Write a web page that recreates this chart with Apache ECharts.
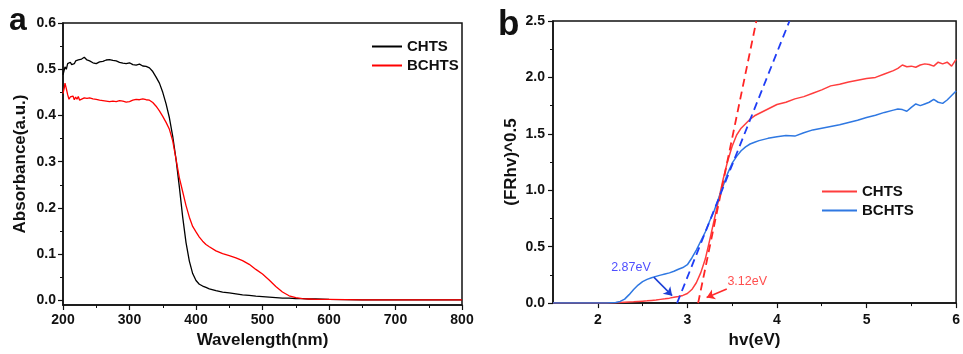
<!DOCTYPE html>
<html>
<head>
<meta charset="utf-8">
<script src="https://cdn.jsdelivr.net/npm/echarts@6/dist/echarts.min.js"></script>
<style>
html,body{margin:0;padding:0;background:#fff;}
#c{width:963px;height:354px;}
</style>
</head>
<body>
<div id="c"></div>
<script>
// ---------- Panel a data ----------
const wavelength = [200,202,203,205,207,209,211,213,215,217,219,221,223,225,228,232,236,240,245,250,255,260,265,270,275,280,285,290,295,300,305,310,315,320,325,330,335,340,345,350,355,360,365,370,375,380,385,390,395,400,405,410,415,420,430,440,450,460,470,480,490,500,510,520,530,540,550,560,570,580,600,650,700,750,800];
const absCHTS = [0.488,0.490,0.505,0.500,0.512,0.508,0.515,0.510,0.514,0.512,0.518,0.514,0.520,0.517,0.522,0.526,0.520,0.518,0.514,0.512,0.516,0.517,0.520,0.521,0.519,0.518,0.515,0.513,0.512,0.514,0.510,0.509,0.511,0.507,0.506,0.503,0.495,0.483,0.470,0.450,0.425,0.395,0.355,0.305,0.245,0.180,0.125,0.085,0.058,0.043,0.035,0.031,0.028,0.025,0.021,0.018,0.016,0.014,0.012,0.011,0.009,0.008,0.007,0.006,0.005,0.005,0.004,0.004,0.003,0.003,0.002,0.001,0.001,0.001,0.001];
const absBCHTS = [0.447,0.460,0.470,0.458,0.445,0.435,0.440,0.436,0.442,0.434,0.440,0.435,0.441,0.433,0.436,0.438,0.437,0.438,0.436,0.435,0.433,0.432,0.431,0.430,0.431,0.430,0.432,0.431,0.429,0.430,0.433,0.435,0.434,0.436,0.434,0.433,0.428,0.420,0.410,0.398,0.385,0.370,0.345,0.305,0.265,0.235,0.205,0.180,0.160,0.148,0.137,0.128,0.121,0.116,0.107,0.101,0.097,0.092,0.086,0.078,0.067,0.057,0.044,0.030,0.018,0.010,0.006,0.004,0.003,0.002,0.002,0.001,0.001,0.001,0.001];
const xTicksA = [200,300,400,500,600,700,800];
const yTicksA = [0,0.1,0.2,0.3,0.4,0.5,0.6];
const yMinorA = [0.05,0.15,0.25,0.35,0.45,0.55];

// ---------- Panel b data ----------
const energy = [1.5,1.8,2.0,2.1,2.2,2.25,2.3,2.35,2.4,2.45,2.5,2.55,2.6,2.65,2.7,2.75,2.8,2.85,2.9,2.95,3.0,3.05,3.1,3.15,3.2,3.25,3.3,3.35,3.4,3.45,3.5,3.55,3.6,3.65,3.7,3.75,3.8,3.9,4.0,4.1,4.2,4.3,4.4,4.5,4.6,4.7,4.8,4.9,5.0,5.1,5.2,5.3,5.35,5.4,5.45,5.5,5.55,5.6,5.65,5.7,5.75,5.8,5.85,5.9,5.95,6.0];
const frCHTS = [0,0,0,0.001,0.003,0.005,0.007,0.009,0.011,0.014,0.017,0.020,0.024,0.028,0.033,0.038,0.044,0.051,0.058,0.068,0.085,0.120,0.180,0.270,0.390,0.560,0.740,0.920,1.100,1.260,1.390,1.490,1.550,1.590,1.630,1.660,1.680,1.720,1.760,1.780,1.810,1.830,1.860,1.890,1.925,1.940,1.960,1.975,1.990,2.000,2.030,2.060,2.080,2.110,2.095,2.100,2.090,2.110,2.120,2.115,2.100,2.135,2.120,2.135,2.100,2.160];
const frBCHTS = [0,0,0,0.001,0.005,0.015,0.035,0.075,0.120,0.160,0.190,0.210,0.225,0.237,0.248,0.258,0.268,0.282,0.300,0.315,0.340,0.400,0.470,0.550,0.630,0.730,0.820,0.930,1.040,1.150,1.240,1.300,1.350,1.385,1.410,1.425,1.440,1.460,1.475,1.485,1.480,1.510,1.535,1.550,1.565,1.580,1.600,1.620,1.645,1.665,1.690,1.710,1.720,1.715,1.700,1.735,1.765,1.750,1.765,1.780,1.805,1.780,1.770,1.800,1.840,1.880];
const tangentCHTS = [[3.12,0],[3.77,2.5]];
const tangentBCHTS = [[2.885,0],[4.14,2.5]];
const xTicksB = [2,3,4,5,6];
const xMinorB = [2.5,3.5,4.5,5.5];
const gapLabels = ['2.87eV','3.12eV'];
const gapLabelPos = [[2.37,0.314],[3.668,0.188]];
const arrowBCHTS = [[2.625,0.23],[2.83,0.066]];
const arrowCHTS = [[3.44,0.125],[3.215,0.05]];

const FONT = '"Liberation Sans", Arial, sans-serif';
const zip = (a,b) => a.map((v,i)=>[v,b[i]]);
const tickLabel = {fontFamily:FONT,fontWeight:'bold',fontSize:14,color:'#111'};
const nameStyle = {fontFamily:FONT,fontWeight:'bold',fontSize:17,color:'#111'};
const axLine = {show:true,onZero:false,lineStyle:{color:'#111',width:1.5}};

const chart = echarts.init(document.getElementById('c'), null, {renderer:'canvas'});
chart.setOption({
  animation:false,
  backgroundColor:'#fff',
  grid:[
    {left:63,top:23,width:399,height:287,show:true,borderColor:'#111',borderWidth:1.5,backgroundColor:'transparent'},
    {left:553,top:21,width:406,height:292,show:true,borderColor:'#111',borderWidth:1.5,backgroundColor:'transparent'}
  ],
  xAxis:[
    {gridIndex:0,type:'value',min:200,max:800,interval:100,axisLine:axLine,
     axisTick:{show:true,length:5,lineStyle:{color:'#111',width:1.2}},
     minorTick:{show:true,splitNumber:2,length:3,lineStyle:{color:'#111',width:1}},
     splitLine:{show:false},minorSplitLine:{show:false},
     axisLabel:Object.assign({margin:8},tickLabel),
     name:'Wavelength(nm)',nameLocation:'middle',nameGap:27,nameTextStyle:nameStyle},
    {gridIndex:1,type:'value',min:1.5,max:6,axisLine:axLine,
     axisTick:{show:true,length:5,customValues:xTicksB,lineStyle:{color:'#111',width:1.2}},
     splitLine:{show:false},
     axisLabel:Object.assign({margin:10,customValues:xTicksB,showMinLabel:true,showMaxLabel:true},tickLabel),
     name:'hv(eV)',nameLocation:'middle',nameGap:26,nameTextStyle:nameStyle},
    {gridIndex:1,type:'value',min:1.5,max:6,position:'bottom',axisLine:{show:false,onZero:false},
     axisTick:{show:true,length:3,customValues:xMinorB,lineStyle:{color:'#111',width:1}},
     axisLabel:{show:false},splitLine:{show:false}}
  ],
  yAxis:[
    {gridIndex:0,type:'value',min:-0.01,max:0.6,axisLine:axLine,
     axisTick:{show:true,length:5,customValues:yTicksA,lineStyle:{color:'#111',width:1.2}},
     splitLine:{show:false},
     axisLabel:Object.assign({margin:7,customValues:yTicksA,formatter:v=>Number(v).toFixed(1)},tickLabel),
     name:'Absorbance(a.u.)',nameLocation:'middle',nameGap:34,nameTextStyle:nameStyle},
    {gridIndex:0,type:'value',min:-0.01,max:0.6,position:'left',axisLine:{show:false,onZero:false},
     axisTick:{show:true,length:3,customValues:yMinorA,lineStyle:{color:'#111',width:1}},
     axisLabel:{show:false},splitLine:{show:false}},
    {gridIndex:1,type:'value',min:0,max:2.5,interval:0.5,axisLine:axLine,
     axisTick:{show:true,length:5,lineStyle:{color:'#111',width:1.2}},
     minorTick:{show:true,splitNumber:2,length:3,lineStyle:{color:'#111',width:1}},
     splitLine:{show:false},minorSplitLine:{show:false},
     axisLabel:Object.assign({margin:8,formatter:v=>Number(v).toFixed(1)},tickLabel),
     name:'(FRhv)^0.5',nameLocation:'middle',nameGap:33,nameTextStyle:nameStyle}
  ],
  legend:[
    {orient:'vertical',left:372,top:39,padding:0,itemGap:4,itemWidth:30,itemHeight:2,icon:'rect',
     data:['CHTS','BCHTS'],textStyle:{fontFamily:FONT,fontWeight:'bold',fontSize:15,color:'#111'},
     formatter:n=>n.trim(),selectedMode:false},
    {orient:'vertical',left:822,top:184,padding:0,itemGap:4,itemWidth:35,itemHeight:2,icon:'rect',
     data:['CHTS ','BCHTS '],textStyle:{fontFamily:FONT,fontWeight:'bold',fontSize:15,color:'#111'},
     formatter:n=>n.trim(),selectedMode:false}
  ],
  graphic:[
    {type:'text',left:9,top:5,style:{text:'a',font:'bold 32px "Liberation Sans", Arial',fill:'#111'}},
    {type:'text',left:498,top:8,style:{text:'b',font:'bold 35px "Liberation Sans", Arial',fill:'#111'}}
  ],
  series:[
    {name:'CHTS',type:'line',xAxisIndex:0,yAxisIndex:0,data:zip(wavelength,absCHTS),symbol:'none',
     color:'#000',lineStyle:{color:'#000',width:1.3}},
    {name:'BCHTS',type:'line',xAxisIndex:0,yAxisIndex:0,data:zip(wavelength,absBCHTS),symbol:'none',
     color:'#ff0000',lineStyle:{color:'#ff0000',width:1.3}},
    {name:'CHTS ',type:'line',xAxisIndex:1,yAxisIndex:2,data:zip(energy,frCHTS),symbol:'none',
     color:'#ff3d3d',lineStyle:{color:'#ff3d3d',width:1.5}},
    {name:'BCHTS ',type:'line',xAxisIndex:1,yAxisIndex:2,data:zip(energy,frBCHTS),symbol:'none',
     color:'#2f78e2',lineStyle:{color:'#2f78e2',width:1.5}},
    {name:'tanC',type:'line',xAxisIndex:1,yAxisIndex:2,data:tangentCHTS,symbol:'none',
     lineStyle:{color:'#ff2424',width:1.8,type:[8,5]}},
    {name:'tanB',type:'line',xAxisIndex:1,yAxisIndex:2,data:tangentBCHTS,symbol:'none',
     lineStyle:{color:'#1f3df5',width:1.8,type:[8,5]}},
    {name:'ann',type:'scatter',xAxisIndex:1,yAxisIndex:2,symbolSize:1,silent:true,
     itemStyle:{color:'rgba(0,0,0,0)'},
     data:[
       {value:gapLabelPos[0],name:gapLabels[0],label:{color:'#2222ff'}},
       {value:gapLabelPos[1],name:gapLabels[1],label:{color:'#ff2222'}}
     ],
     label:{show:true,position:'inside',formatter:p=>p.name,fontFamily:FONT,fontSize:12.5},
     markLine:{silent:true,animation:false,symbol:['none','arrow'],symbolSize:8,label:{show:false},
       data:[
         [{coord:arrowBCHTS[0],lineStyle:{color:'#1c3fd6',width:1.5,type:'solid'},symbol:'none'},
          {coord:arrowBCHTS[1],lineStyle:{color:'#1c3fd6',width:1.5,type:'solid'},itemStyle:{color:'#1c3fd6'}}],
         [{coord:arrowCHTS[0],lineStyle:{color:'#ff2b2b',width:1.5,type:'solid'},symbol:'none'},
          {coord:arrowCHTS[1],lineStyle:{color:'#ff2b2b',width:1.5,type:'solid'},itemStyle:{color:'#ff2b2b'}}]
       ]}
    }
  ]
});
</script>
</body>
</html>
